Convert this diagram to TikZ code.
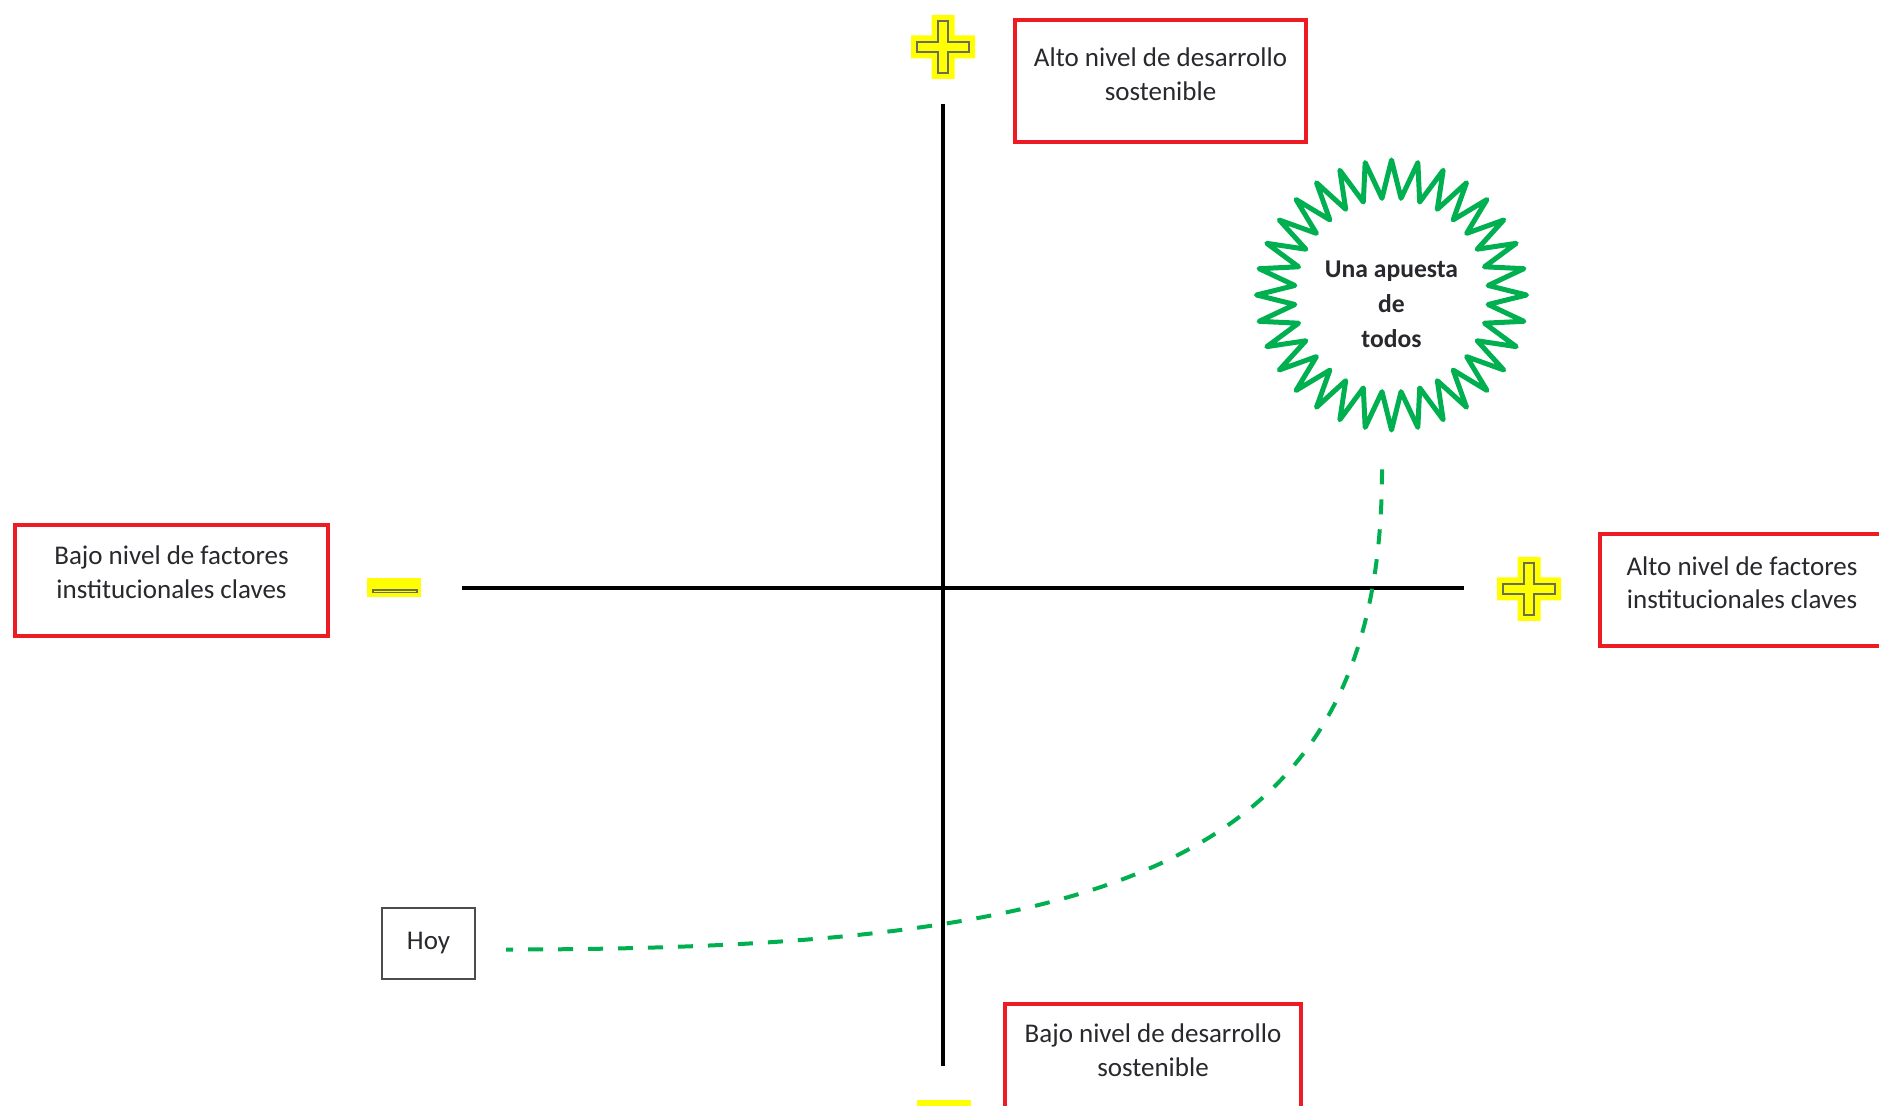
\documentclass[tikz,border=0pt]{standalone}
\usepackage{fontspec}
\setmainfont{Carlito}
\usetikzlibrary{shapes.geometric}
\definecolor{rojo}{RGB}{237,28,36}
\definecolor{verde}{RGB}{0,176,80}
\definecolor{amarillo}{RGB}{255,255,0}
\definecolor{grisborde}{RGB}{105,110,85}
\definecolor{texto}{RGB}{40,40,45}
% cross outline: half arm width, half arm length
\newcommand{\cruz}[2]{(-#1,-#2) -- (#1,-#2) -- (#1,-#1) -- (#2,-#1) -- (#2,#1) -- (#1,#1) -- (#1,#2) -- (-#1,#2) -- (-#1,#1) -- (-#2,#1) -- (-#2,-#1) -- (-#1,-#1) -- cycle}
\tikzset{
  caja/.style={draw=rojo, line width=2.2pt, text width=#1, align=flush center,
    inner xsep=0pt, inner ysep=0pt, anchor=base, text=texto,
    font=\fontsize{13.5}{17}\selectfont},
  hoybox/.style={draw=black!70, line width=1.2pt, minimum width=46.5pt,
    minimum height=35.5pt, text=texto, font=\fontsize{13.5}{17}\selectfont},
  estrella/.style={star, star points=32, star point ratio=1.39, draw=verde,
    line width=2.5pt, line join=round, minimum size=135pt, inner sep=0pt,
    text width=68pt, align=flush center, text height=14pt, text depth=31pt,
    text=texto, font=\bfseries\fontsize{12.8}{17.5}\selectfont},
  eje/.style={line width=2.3pt, black},
  trayecto/.style={verde, line width=2pt, dash pattern=on 7.5pt off 7.5pt},
  pics/mas/.style={code={
    \fill[amarillo] \cruz{11.5}{32};
    \draw[grisborde, line width=1.1pt] \cruz{5}{26};
  }},
  pics/menos/.style={code={
    \fill[amarillo] (-27,-9.5) rectangle (27,9.5);
    \draw[grisborde, line width=0.9pt] (-21,2) rectangle (23,4.5);
  }},
}
\begin{document}
\begin{tikzpicture}[x=0.5pt, y=-0.5pt]
\useasboundingbox (0,0) rectangle (1879,1106);
\fill[white] (0,0) rectangle (1879,1106);
\clip (0,0) rectangle (1879,1106);

%%% axes %%%
\coordinate (arriba) at (943,104);
\coordinate (abajo) at (943,1066);
\coordinate (izq) at (462,588);
\coordinate (der) at (1464,588);
\draw[eje] (arriba) -- (abajo);
\draw[eje] (izq) -- (der);

%%% signs %%%
\pic at (943,47) {mas};
\pic at (1529,589) {mas};
\pic at (394,588) {menos};
\pic at (944,1109.5) {menos};

%%% boxes %%%
\node[caja=145.5pt, text height=23.5pt, text depth=37.5pt] (altoDS) at (1160.5,67)
  {Alto nivel de desarrollo\\sostenible};
\node[caja=148pt, text height=19pt, text depth=42pt] (bajoDS) at (1153,1042)
  {Bajo nivel de desarrollo\\sostenible};
\node[caja=156.5pt, text height=20pt, text depth=35.5pt] (bajoFI) at (171.5,565)
  {Bajo nivel de factores\\institucionales claves};
\node[caja=142pt, text height=20.5pt, text depth=35.5pt] (altoFI) at (1742,575)
  {Alto nivel de factores\\institucionales claves};
\node[hoybox] (hoy) at (428.5,943.5) {Hoy};

%%% star %%%
\node[estrella] (apuesta) at (1391.5,295) {Una apuesta\\de\\todos};

%%% path from today %%%
\draw[trayecto] ([shift={(-9.5,29)}]apuesta.south)
  .. controls +(0,395) and +(610,0) .. ([shift={(30,6)}]hoy.east);

\end{tikzpicture}
\end{document}
